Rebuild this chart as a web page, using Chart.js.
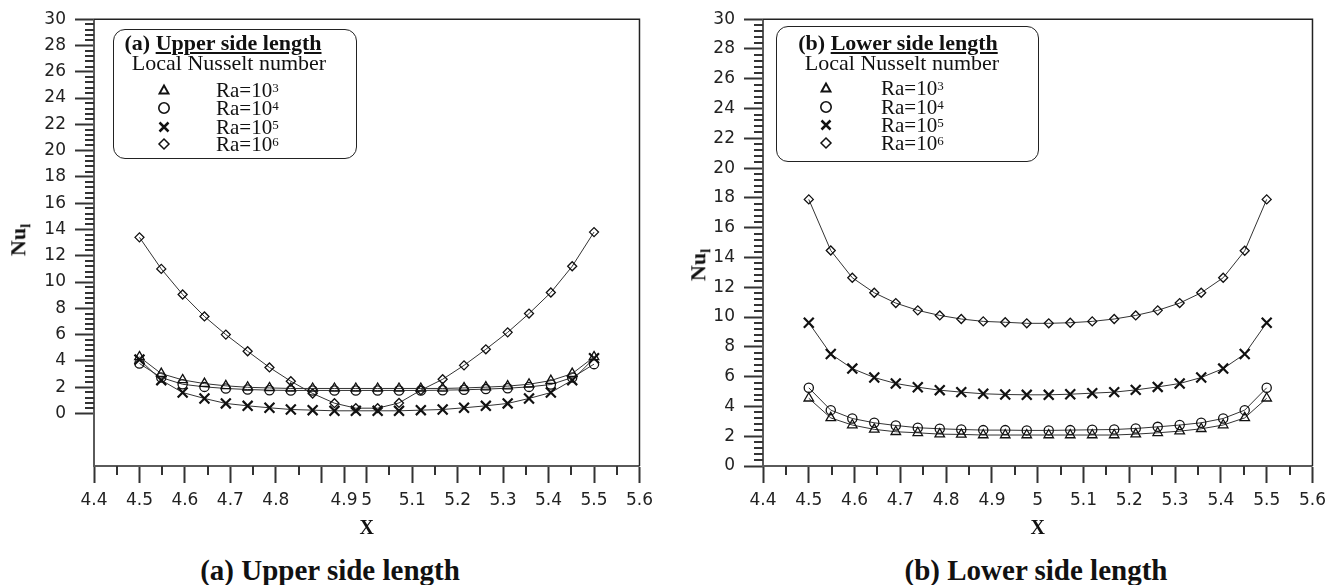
<!DOCTYPE html>
<html>
<head>
<meta charset="utf-8">
<script src="https://cdn.jsdelivr.net/npm/chart.js@4.4.0/dist/chart.umd.min.js"></script>
<style>
html,body{margin:0;padding:0;background:#fff;}
body{width:1333px;height:585px;overflow:hidden;position:relative;}
canvas{position:absolute;top:0;}
#cA{left:0;}
#cB{left:670px;}
.serif{font-family:"Liberation Serif","Times New Roman",serif;color:#111;}
.legend{position:absolute;border:1px solid #222;border-radius:12px;box-sizing:border-box;}
.lt{position:absolute;white-space:nowrap;font-weight:bold;font-size:22px;line-height:22px;transform:translateX(-50%);}
.ls{position:absolute;white-space:nowrap;font-size:22px;line-height:22px;transform:translateX(-50%);}
.row{position:absolute;white-space:nowrap;font-size:21px;line-height:18px;}
.row sup{font-size:13px;position:relative;top:-2px;vertical-align:top;}
.mk{position:absolute;width:14px;height:14px;}
.ytitle{position:absolute;transform:translate(-50%,-50%) rotate(-90deg);font-weight:bold;font-size:22px;line-height:22px;white-space:nowrap;}
.ytitle sub{font-size:15px;}
.cap{position:absolute;top:556px;transform:translateX(-50%);font-weight:bold;font-size:29px;line-height:29px;white-space:nowrap;}
</style>
</head>
<body>
<canvas id="cA" width="660" height="545"></canvas>
<canvas id="cB" width="663" height="545"></canvas>

<div class="ytitle serif" style="left:22px;top:240px;">Nu<sub>l</sub></div>
<div class="ytitle serif" style="left:702px;top:265px;">Nu<sub>l</sub></div>

<div class="legend serif" style="left:113px;top:29px;width:244px;height:130px;">
  <div class="lt" style="left:109px;top:2px;">(a) <u>Upper side length</u></div>
  <div class="ls" style="left:115px;top:22px;">Local Nusselt number</div>
  <svg class="mk" style="left:43px;top:53px;" viewBox="0 0 14 14"><polygon points="7,2.5 11.5,10.5 2.5,10.5" fill="none" stroke="#111" stroke-width="1.9"/></svg>
  <div class="row" style="left:102px;top:51px;">Ra=10<sup>3</sup></div>
  <svg class="mk" style="left:43px;top:71px;" viewBox="0 0 14 14"><circle cx="7" cy="7" r="5.2" fill="none" stroke="#111" stroke-width="1.6"/></svg>
  <div class="row" style="left:102px;top:69px;">Ra=10<sup>4</sup></div>
  <svg class="mk" style="left:43px;top:90px;" viewBox="0 0 14 14"><path d="M2.5,2.5 L11.5,11.5 M11.5,2.5 L2.5,11.5" stroke="#111" stroke-width="2.5"/></svg>
  <div class="row" style="left:102px;top:88px;">Ra=10<sup>5</sup></div>
  <svg class="mk" style="left:43px;top:107px;" viewBox="0 0 14 14"><polygon points="7,2 12,7 7,12 2,7" fill="none" stroke="#111" stroke-width="1.5"/></svg>
  <div class="row" style="left:102px;top:105px;">Ra=10<sup>6</sup></div>
</div>

<div class="legend serif" style="left:776px;top:26px;width:263px;height:136px;">
  <div class="lt" style="left:121px;top:5px;">(b) <u>Lower side length</u></div>
  <div class="ls" style="left:125px;top:25px;">Local Nusselt number</div>
  <svg class="mk" style="left:42px;top:54px;" viewBox="0 0 14 14"><polygon points="7,2.5 11.5,10.5 2.5,10.5" fill="none" stroke="#111" stroke-width="1.9"/></svg>
  <div class="row" style="left:104px;top:52px;">Ra=10<sup>3</sup></div>
  <svg class="mk" style="left:42px;top:73px;" viewBox="0 0 14 14"><circle cx="7" cy="7" r="5.2" fill="none" stroke="#111" stroke-width="1.6"/></svg>
  <div class="row" style="left:104px;top:71px;">Ra=10<sup>4</sup></div>
  <svg class="mk" style="left:42px;top:91px;" viewBox="0 0 14 14"><path d="M2.5,2.5 L11.5,11.5 M11.5,2.5 L2.5,11.5" stroke="#111" stroke-width="2.5"/></svg>
  <div class="row" style="left:104px;top:89px;">Ra=10<sup>5</sup></div>
  <svg class="mk" style="left:42px;top:109px;" viewBox="0 0 14 14"><polygon points="7,2 12,7 7,12 2,7" fill="none" stroke="#111" stroke-width="1.5"/></svg>
  <div class="row" style="left:104px;top:107px;">Ra=10<sup>6</sup></div>
</div>

<div class="cap serif" style="left:330px;">(a) Upper side length</div>
<div class="cap serif" style="left:1036px;">(b) Lower side length</div>

<script>
// ---------- data ----------
const xValues = [4.5, 4.548, 4.595, 4.643, 4.690, 4.738, 4.786, 4.833, 4.881, 4.929, 4.976,
                 5.024, 5.071, 5.119, 5.167, 5.214, 5.262, 5.310, 5.357, 5.405, 5.452, 5.5];

const seriesLabels = ['Ra=10³', 'Ra=10⁴', 'Ra=10⁵', 'Ra=10⁶'];

// (a) Upper side length
const upperRa3 = [4.3, 3.03, 2.55, 2.27, 2.1, 1.99, 1.94, 1.9, 1.9, 1.9, 1.9, 1.9, 1.9, 1.9, 1.9, 1.94, 2.0, 2.08, 2.22, 2.5, 3.03, 4.3];
const upperRa4 = [3.8, 2.73, 2.22, 2.02, 1.9, 1.82, 1.77, 1.75, 1.75, 1.75, 1.75, 1.75, 1.75, 1.75, 1.77, 1.8, 1.85, 1.92, 2.02, 2.2, 2.73, 3.75];
const upperRa5 = [4.1, 2.53, 1.59, 1.14, 0.76, 0.58, 0.43, 0.3, 0.25, 0.2, 0.2, 0.2, 0.2, 0.25, 0.3, 0.43, 0.58, 0.76, 1.14, 1.59, 2.53, 4.2];
const upperRa6 = [13.4, 11.0, 9.05, 7.38, 6.0, 4.73, 3.5, 2.45, 1.52, 0.78, 0.4, 0.4, 0.8, 1.77, 2.6, 3.66, 4.88, 6.17, 7.6, 9.2, 11.2, 13.8];

// (b) Lower side length
const lowerRa3 = [4.55, 3.23, 2.75, 2.46, 2.3, 2.23, 2.14, 2.12, 2.08, 2.08, 2.08, 2.08, 2.08, 2.08, 2.08, 2.14, 2.23, 2.34, 2.5, 2.75, 3.23, 4.55];
const lowerRa4 = [5.25, 3.75, 3.19, 2.9, 2.72, 2.57, 2.5, 2.45, 2.41, 2.41, 2.39, 2.39, 2.41, 2.43, 2.45, 2.52, 2.63, 2.75, 2.9, 3.19, 3.75, 5.25];
const lowerRa5 = [9.62, 7.52, 6.54, 5.94, 5.54, 5.29, 5.09, 4.96, 4.85, 4.8, 4.78, 4.78, 4.82, 4.89, 4.96, 5.11, 5.31, 5.54, 5.94, 6.54, 7.52, 9.62];
const lowerRa6 = [17.9, 14.47, 12.64, 11.63, 10.94, 10.45, 10.11, 9.87, 9.71, 9.65, 9.58, 9.58, 9.62, 9.71, 9.87, 10.11, 10.45, 10.94, 11.63, 12.64, 14.45, 17.9];

// ticks: labelled (long) ticks and short minor ticks
const xMajorValuesUpper = [4.4, 4.5, 4.6, 4.7, 4.8, 4.9, 4.95, 5.0, 5.1, 5.2, 5.3, 5.4, 5.5, 5.6];
const xTickLabelsUpper  = ['4.4','4.5','4.6','4.7','4.8','','4.9','5','5.1','5.2','5.3','5.4','5.5','5.6'];
const xMinorValuesUpper = [4.45, 4.55, 4.65, 4.75, 4.85, 5.05, 5.15, 5.25, 5.35, 5.45, 5.55];
const xMajorValuesLower = [4.4, 4.5, 4.6, 4.7, 4.8, 4.9, 5.0, 5.1, 5.2, 5.3, 5.4, 5.5, 5.6];
const xTickLabelsLower  = ['4.4','4.5','4.6','4.7','4.8','4.9','5','5.1','5.2','5.3','5.4','5.5','5.6'];
const xMinorValuesLower = [4.45, 4.55, 4.65, 4.75, 4.85, 4.95, 5.05, 5.15, 5.25, 5.35, 5.45, 5.55];
const yMajorValues = [0, 2, 4, 6, 8, 10, 12, 14, 16, 18, 20, 22, 24, 26, 28, 30];
const yTickLabels = ['0','2','4','6','8','10','12','14','16','18','20','22','24','26','28','30'];

// ---------- styles ----------
const markerStyles = [
  {pointStyle: 'triangle', radius: 5.5, width: 1.3},
  {pointStyle: 'circle',   radius: 4.6, width: 1.3},
  {pointStyle: 'crossRot', radius: 7,   width: 2.2},
  {pointStyle: 'rectRot',  radius: 4.5, width: 1.3}
];
const AXIS = '#5a5a5a';
const TICK = '#333';
const TICKFONT = {family: '"DejaVu Sans", "Liberation Sans", sans-serif', size: 17};
const X_MAJOR_LEN = 17, X_MINOR_LEN = 9, Y_MAJOR_LEN = 19, Y_MINOR_LEN = 9;

// axis lines, frame (top/right) and the short minor tick marks, placed through the chart's own scales
function framePlugin(xMinors) {
  return {
    id: 'frame',
    afterDraw(chart) {
      const {ctx, chartArea: a, scales} = chart;
      ctx.save();
      ctx.strokeStyle = AXIS;
      ctx.lineWidth = 2;
      ctx.beginPath();
      ctx.moveTo(a.left, a.top);
      ctx.lineTo(a.left, a.bottom);
      ctx.lineTo(a.right, a.bottom);
      ctx.stroke();

      ctx.strokeStyle = '#222';
      ctx.lineWidth = 1.5;
      ctx.beginPath();
      ctx.moveTo(a.left, a.top);
      ctx.lineTo(a.right, a.top);
      ctx.lineTo(a.right, a.bottom);
      ctx.stroke();

      ctx.strokeStyle = TICK;
      ctx.lineWidth = 2;
      ctx.beginPath();
      xMinors.forEach((v) => {
        const px = Math.round(scales.x.getPixelForValue(v));
        ctx.moveTo(px, a.bottom);
        ctx.lineTo(px, a.bottom + X_MINOR_LEN);
      });
      for (let k = 0; k < 75; k++) {
        if (k % 5 === 0) continue;
        const py = Math.round(scales.y.getPixelForValue(k * 0.4));
        ctx.moveTo(a.left - Y_MINOR_LEN, py);
        ctx.lineTo(a.left, py);
      }
      ctx.stroke();
      ctx.restore();
    }
  };
}

function makeChart(id, seriesList, yMin, xMajors, xLabels, xMinors, yWidth) {
  const datasets = seriesList.map((vals, i) => ({
    label: seriesLabels[i],
    data: xValues.map((x, j) => ({x: x, y: vals[j]})),
    borderColor: '#333',
    borderWidth: 1,
    backgroundColor: 'rgba(0,0,0,0)',
    pointStyle: markerStyles[i].pointStyle,
    pointRadius: markerStyles[i].radius,
    pointBorderWidth: markerStyles[i].width,
    pointBorderColor: '#111',
    pointBackgroundColor: 'rgba(0,0,0,0)',
    tension: 0,
    fill: false
  }));
  return new Chart(document.getElementById(id), {
    type: 'line',
    data: {datasets},
    options: {
      responsive: false,
      animation: false,
      devicePixelRatio: 1,
      layout: {padding: {left: 0, top: 18, right: 20, bottom: 0}},
      plugins: {legend: {display: false}, tooltip: {enabled: false}},
      scales: {
        x: {
          type: 'linear',
          min: 4.4, max: 5.6,
          afterBuildTicks: (s) => { s.ticks = xMajors.map(v => ({value: v})); },
          afterFit: (s) => { s.height = 79; },
          ticks: {
            autoSkip: false, maxRotation: 0, minRotation: 0,
            color: '#222', font: TICKFONT, padding: 7,
            callback: (v, i) => xLabels[i]
          },
          grid: {drawOnChartArea: false, tickLength: X_MAJOR_LEN, tickColor: TICK, tickWidth: 2},
          title: {
            display: true, text: 'X', color: '#111',
            font: {family: '"Liberation Serif", "Times New Roman", serif', size: 20, weight: 'bold'},
            padding: {top: 0, bottom: 4}
          }
        },
        y: {
          min: yMin, max: 30,
          afterBuildTicks: (s) => { s.ticks = yMajorValues.map(v => ({value: v})); },
          afterFit: (s) => { s.width = yWidth; },
          ticks: {
            autoSkip: false, color: '#222', font: TICKFONT, padding: 9,
            callback: (v, i) => yTickLabels[i]
          },
          grid: {drawOnChartArea: false, tickLength: Y_MAJOR_LEN, tickColor: TICK, tickWidth: 2}
        }
      }
    },
    plugins: [framePlugin(xMinors)]
  });
}

makeChart('cA', [upperRa3, upperRa4, upperRa5, upperRa6], -4, xMajorValuesUpper, xTickLabelsUpper, xMinorValuesUpper, 94);
makeChart('cB', [lowerRa3, lowerRa4, lowerRa5, lowerRa6], 0, xMajorValuesLower, xTickLabelsLower, xMinorValuesLower, 93);
</script>
</body>
</html>
